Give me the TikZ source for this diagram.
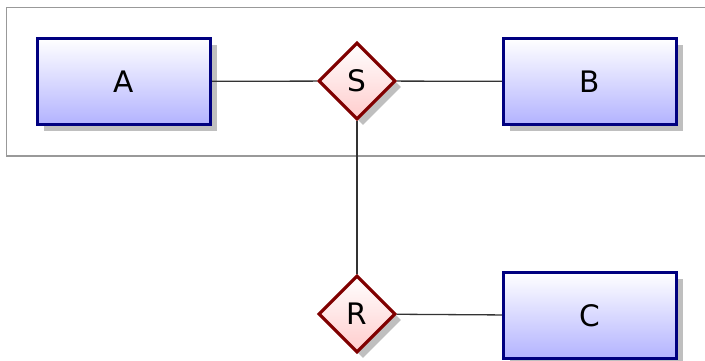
\documentclass[tikz,border=0pt]{standalone}
\usepackage{fontspec}
\setmainfont{DejaVu Sans}
\usetikzlibrary{shapes.geometric,shadows}
\tikzset{
  entity/.style={rectangle, draw=blue!50!black, line width=1.6pt,
    top color=white, bottom color=blue!30,
    minimum width=86.5pt, minimum height=43pt, inner sep=0pt,
    drop shadow={shadow xshift=3pt, shadow yshift=-3pt, fill=black!25, opacity=1},
    font=\fontsize{14.8}{17}\selectfont},
  relation/.style={diamond, aspect=1, draw=red!50!black, line width=1.6pt,
    top color=white, bottom color=red!20,
    minimum width=38.5pt, minimum height=38.5pt, inner sep=0pt,
    drop shadow={shadow xshift=3pt, shadow yshift=-3pt, fill=black!25, opacity=1},
    font=\fontsize{14.8}{17}\selectfont},
  link/.style={draw=black!80, line width=0.65pt},
  frame/.style={draw=black!40, line width=0.6pt}
}
\begin{document}
\begin{tikzpicture}[x=0.5pt, y=-0.5pt]
  \useasboundingbox (0,0) rectangle (705,360);
  \clip (0,0) rectangle (705,360);
  % enclosing group frame
  \draw[frame] (6.5,7.5) rectangle (730,156);
  % entities and relationships
  \node[entity] (A) at (124,81.5) {A};
  \node[entity] (B) at (590,81.5) {B};
  \node[entity] (C) at (590,315.5) {C};
  \node[relation] (S) at (357,81) {S};
  \node[relation] (R) at (357,314) {R};
  % connectors
  \draw[link] (A) -- (S);
  \draw[link] (S) -- (B);
  \draw[link] (S) -- (R);
  \draw[link] (R) -- (C);
\end{tikzpicture}
\end{document}
